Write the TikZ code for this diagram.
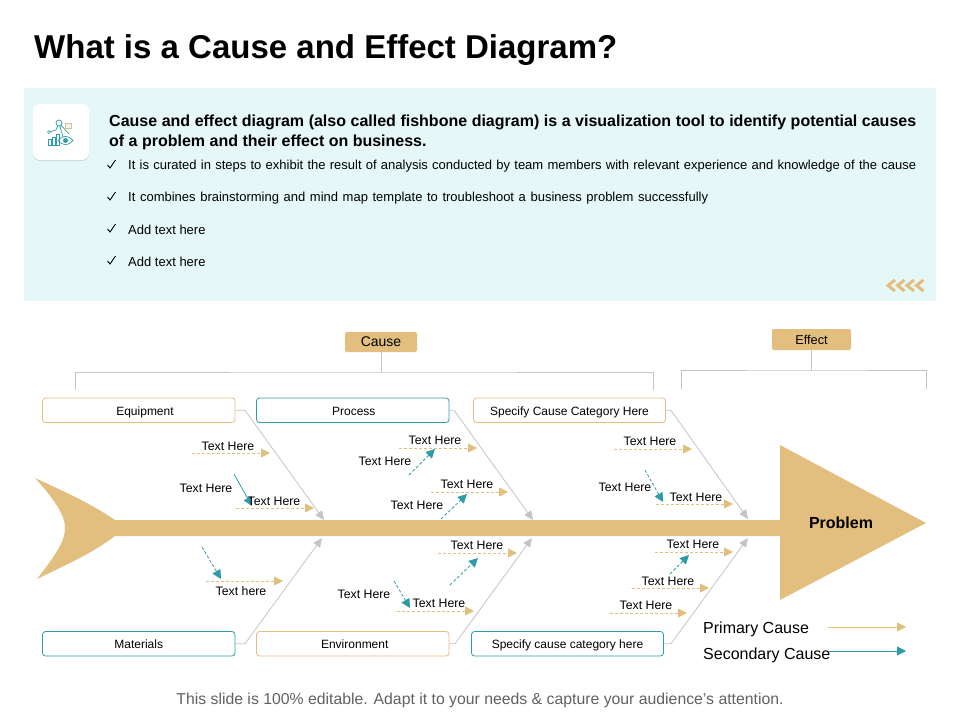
\documentclass[tikz,border=0pt]{standalone}
\usepackage{fontspec}
\setmainfont{Liberation Sans}
\usetikzlibrary{arrows.meta,shadows}
\definecolor{tan}{HTML}{E2BF7F}
\definecolor{teal}{HTML}{2E9CA8}
\definecolor{panel}{HTML}{E6F7F7}
\definecolor{bone}{HTML}{C4C4C4}
\tikzset{
	catbox/.style={draw=#1,fill=white,rounded corners=3pt,minimum height=24.5pt,text height=10pt,text depth=.5pt,font=\fontsize{12}{14}\selectfont,inner sep=0pt,line width=.8pt},
	headbox/.style={fill=tan,rounded corners=2pt,inner sep=0pt},
	bonearrow/.style={draw=bone,line width=.8pt,-{Triangle[length=9pt,width=8pt,fill=bone]}},
	bracket/.style={draw=bone,line width=.7pt},
	primary/.style={draw=tan,dash pattern=on 3pt off 2pt,line width=.8pt,-{Triangle[length=9pt,width=9pt,fill=tan]}},
	secondary/.style={draw=teal,dash pattern=on 3pt off 2pt,line width=.8pt,-{Triangle[length=9pt,width=9pt,fill=teal]}},
	lbl/.style={font=\fontsize{12.3}{14}\selectfont,inner sep=0pt},
	bullet/.style={font=\fontsize{13}{15}\selectfont,inner sep=0pt,anchor=west}
}
\begin{document}
\begin{tikzpicture}[x=1pt,y=-1pt]
	\useasboundingbox (0,0) rectangle (960,720);
	\node[anchor=west,inner sep=0pt,font=\fontsize{33}{38}\selectfont\bfseries] (title) at (34,50) {What is a Cause and Effect Diagram?};
	% text panel
	\fill[panel] (24,88) rectangle (936,301);
	\node[fill=white,rounded corners=7pt,minimum size=56pt,inner sep=0pt,drop shadow={shadow xshift=0pt,shadow yshift=-1pt,opacity=.25}] (iconbox) at (61,132) {};
	\begin{scope}[shift={(61,132)},teal,line width=.7pt]
		\draw (-13,13) rectangle (-10,7) (-9,13) rectangle (-6,5) (-5,13) rectangle (-2,2);
		\draw (-3,8.5) .. controls (1,3) and (8,3) .. (12,8.5) .. controls (8,14) and (1,14) .. (-3,8.5);
		\fill (4.5,8.5) circle (2.5pt);
		\draw (-12,0) -- (-5,-2) -- (-2,-9) -- (2,5) (-2,-9) -- (8,2);
		\draw[fill=white] (-2,-9) circle (3pt);
		\draw[fill=white] (-12,0) circle (1.5pt);
		\draw[tan,fill=panel] (4,-9) rectangle (10,-4);
	\end{scope}
	\node[anchor=north west,text width=807pt,align=justify,inner sep=0pt,font=\fontsize{16}{19.5}\selectfont\bfseries] (headtext) at (109,115) {Cause and effect diagram (also called fishbone diagram) is a visualization tool to identify potential causes of a problem and their effect on business.};
	\foreach \i/\y/\txt in {a/166/{\makebox[788pt][s]{It is curated in steps to exhibit the result of analysis conducted by team members with relevant experience and knowledge of the cause}},
		b/198/{\makebox[580pt][s]{It combines brainstorming and mind map template to troubleshoot a business problem successfully}},
		c/230/{Add text here},d/262/{Add text here}}{
		\coordinate (chk\i) at (107.5,\y-1);
		\node[bullet] (item\i) at (128,\y) {\txt};
		\draw[black,line width=.9pt] (chk\i) -- ++(2.5,3) -- ++(5.5,-8);
	}
	\foreach \x in {0,9.5,19,28.5}{
		\draw[tan,line width=3pt] (895+\x,280) -- (888+\x,285.5) -- (895+\x,291);
	}
	% header boxes and brackets
	\node[headbox,minimum width=72pt,minimum height=20pt,font=\fontsize{14}{16}\selectfont] (cause) at (381,342) {Cause};
	\node[headbox,minimum width=79pt,minimum height=21pt,font=\fontsize{12.8}{15}\selectfont] (effect) at (811.5,339.5) {Effect};
	\coordinate (causel) at (75.5,390);
	\coordinate (causer) at (653,390);
	\coordinate (causem) at (381,372);
	\coordinate (effectl) at (681.5,389);
	\coordinate (effectr) at (926,389);
	\coordinate (effectm) at (811.5,370);
	\draw[bracket] (cause) -- (causem);
	\draw[bracket] (causel) |- (causem) -| (causer);
	\draw[bracket] (effect) -- (effectm);
	\draw[bracket] (effectl) |- (effectm) -| (effectr);
	% fish
	\fill[tan] (35,478) .. controls (65,492) and (90,503) .. (115,520) -- (780,520) -- (780,445) -- (926,523) -- (780,600) -- (780,536) -- (115,536) .. controls (90,555) and (65,565) .. (37,579) .. controls (58,552) and (65,540) .. (65,528) .. controls (65,515) and (55,500) .. (35,478) -- cycle;
	\node[inner sep=0pt,font=\fontsize{16}{19}\selectfont\bfseries] (problem) at (841,523) {Problem};
	% categories
	\node[catbox=tan,minimum width=192.5pt] (equip) at (138.75,410.25) {\hspace*{12.5pt}Equipment};
	\node[catbox=teal,minimum width=192.5pt] (process) at (352.75,410.25) {\hspace*{2pt}Process};
	\node[catbox=tan,minimum width=192pt] (specup) at (569.5,410.25) {Specify Cause Category Here};
	\node[catbox=teal,minimum width=192.5pt] (mater) at (138.75,643.75) {Materials};
	\node[catbox=tan,minimum width=192.5pt] (environ) at (352.75,643.75) {\hspace*{4pt}Environment};
	\node[catbox=teal,minimum width=192pt] (speclo) at (567.5,643.75) {Specify cause category here};
	\foreach \cat/\xk/\xe/\ye in {equip/245/324/520,process/454/533/520,specup/671/748/519,mater/245/322/538,environ/455/532/538,speclo/671/748/538}{
		\coordinate (\cat k) at (\xk,0);
		\coordinate (\cat e) at (\xe,\ye);
		\draw[bonearrow] (\cat.east) -- (\cat.east -| \cat k) -- (\cat e);
	}
	% primary cause arrows
	\foreach \i/\xa/\xb/\y in {1/192/270/453,2/236/314/508,3/206/283/581,4/399/477/448,5/431/508/492,6/438/517/553,7/397/474/611,8/614/692/449,9/656/733/504,10/655/733/552,11/632/709/588,12/610/687/613}{
		\coordinate (pa\i) at (\xa,\y);
		\coordinate (pb\i) at (\xb,\y);
		\draw[primary] (pa\i) -- (pb\i);
	}
	% secondary cause arrows
	\foreach \i/\xa/\ya/\xb/\yb in {2/202/547/221/579,3/409/475/435/449,4/441/519/467/494,5/450/585/478/558,6/394/581/410/608,7/645/470/663/502,8/670/574/689/555}{
		\coordinate (sa\i) at (\xa,\ya);
		\coordinate (sb\i) at (\xb,\yb);
		\draw[secondary] (sa\i) -- (sb\i);
	}
	\coordinate (sa1) at (234,474);
	\coordinate (sb1) at (252,506);
	\draw[secondary,solid] (sa1) -- (sb1);
	% labels
	\foreach \i/\x/\y in {1/228/446,2/206/488,3/274/501,4/435/440,5/385/461,6/467/484,7/417/505,8/477/545,9/364/594,10/439/603,11/650/441,12/625/487,13/696/497,14/693/544,15/668/581,16/646/605}{
		\node[lbl] (txt\i) at (\x,\y) {Text Here};
	}
	\node[lbl] (txtlow) at (241,591) {Text here};
	% legend
	\node[anchor=west,inner sep=0pt,font=\fontsize{16}{19}\selectfont] (legp) at (703,629) {Primary Cause};
	\node[anchor=west,inner sep=0pt,font=\fontsize{16}{19}\selectfont] (legs) at (703,655) {Secondary Cause};
	\coordinate (lpa) at (828,627);
	\coordinate (lpb) at (906,627);
	\coordinate (lsa) at (828,651);
	\coordinate (lsb) at (906,651);
	\draw[primary,solid] (lpa) -- (lpb);
	\draw[secondary,solid] (lsa) -- (lsb);
	\node[inner sep=0pt,text=black!62,font=\fontsize{15.8}{19}\selectfont] (foot) at (480,700) {This slide is 100\% editable. Adapt it to your needs \& capture your audience’s attention.};
\end{tikzpicture}
\end{document}
